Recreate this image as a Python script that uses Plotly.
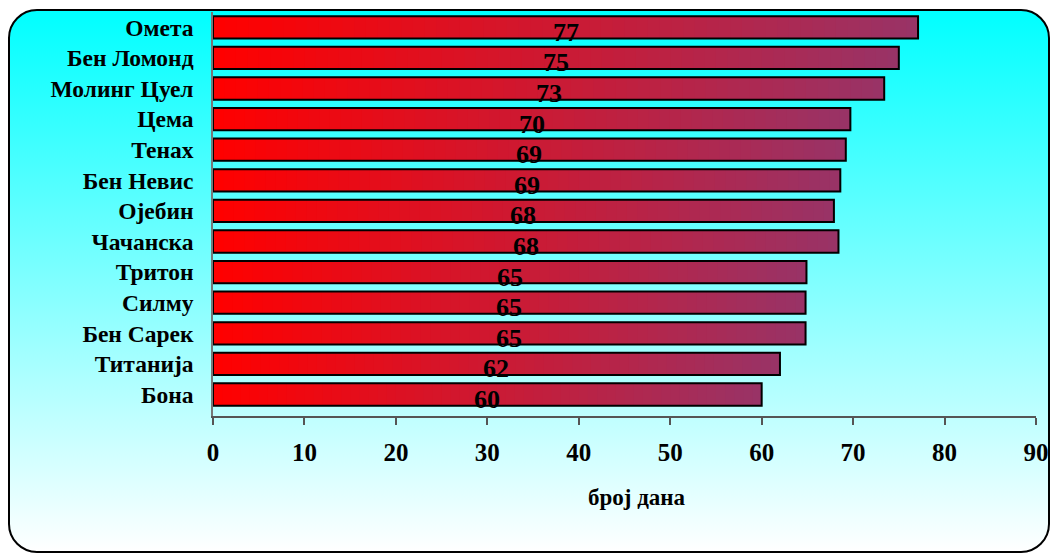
import base64
import plotly.graph_objects as go

categories = ["Омета", "Бен Ломонд", "Молинг Цуел", "Цема", "Тенах", "Бен Невис",
              "Ојебин", "Чачанска", "Тритон", "Силму", "Бен Сарек", "Титанија", "Бона"]
values = [77.1, 75.0, 73.4, 69.7, 69.2, 68.6, 67.9, 68.4, 64.9, 64.8, 64.8, 62.0, 60.0]
x_ticks = [0, 10, 20, 30, 40, 50, 60, 70, 80, 90]
x_title = "број дана"

W, H = 1051, 554
ML, MR, MT, MB = 213, 15, 12, 138
PW, PH = W - ML - MR, H - MT - MB

FONT = "Liberation Serif, Times New Roman, serif"

start_rgb = (255, 0, 0)
end_rgb = (153, 51, 102)
N = 60

fig = go.Figure()

# gradient bars: longest (end colour) first, shorter redder ones drawn on top
for k in range(N):
    frac = (N - k) / N
    t = (N - k - 1) / (N - 1)
    c = tuple(round(s + (e - s) * t) for s, e in zip(start_rgb, end_rgb))
    fig.add_trace(go.Bar(
        y=categories, x=[v * frac for v in values], orientation="h",
        marker=dict(color="rgb(%d,%d,%d)" % c, line=dict(width=0)),
        hoverinfo="skip", showlegend=False))

# outline
fig.add_trace(go.Bar(
    y=categories, x=values, orientation="h",
    marker=dict(color="rgba(0,0,0,0)", line=dict(color="black", width=2)),
    showlegend=False))

for cat, v in zip(categories, values):
    fig.add_annotation(x=v / 2, y=cat, xref="x", yref="y", text="<b>%.0f</b>" % v,
                       showarrow=False, yshift=-5,
                       font=dict(family=FONT, size=26, color="black"))

fig.add_annotation(x=(637 - ML) / PW, y=(MT + PH - 497) / PH, xref="paper", yref="paper",
                   text="<b>%s</b>" % x_title, showarrow=False,
                   xanchor="center", yanchor="middle",
                   font=dict(family=FONT, size=23, color="black"))

# background frame (rounded rectangle with vertical cyan-to-white gradient)
svg = f'''<svg xmlns="http://www.w3.org/2000/svg" width="{W}" height="{H}" viewBox="0 0 {W} {H}" preserveAspectRatio="none">
<defs><linearGradient id="g" x1="0" y1="0" x2="0" y2="1">
<stop offset="0" stop-color="#00FFFF"/><stop offset="1" stop-color="#FFFFFF"/></linearGradient></defs>
<rect x="9" y="10" width="1040" height="542" rx="28" ry="28" fill="url(#g)" stroke="black" stroke-width="2"/>
</svg>'''
src = "data:image/svg+xml;base64," + base64.b64encode(svg.encode()).decode()
fig.add_layout_image(dict(source=src, xref="paper", yref="paper",
                          x=-ML / PW, y=1 + MT / PH, sizex=W / PW, sizey=H / PH,
                          xanchor="left", yanchor="top", sizing="stretch", layer="below"))

fig.update_layout(
    width=W, height=H, margin=dict(l=ML, r=MR, t=MT, b=MB, autoexpand=False),
    paper_bgcolor="white", plot_bgcolor="rgba(0,0,0,0)",
    barmode="overlay", bargap=0.27,
    font=dict(family=FONT, color="black"),
)
fig.update_xaxes(range=[0, 90], tickvals=x_ticks, ticktext=["<b>%d</b>" % t for t in x_ticks],
                 showgrid=False, zeroline=False, showline=True, linecolor="#555555", linewidth=1.5,
                 ticks="outside", ticklen=7, tickcolor="#555555", tickwidth=1.5, automargin=False,
                 tickfont=dict(family=FONT, size=25, color="black"), ticklabelstandoff=6)
fig.update_yaxes(categoryorder="array", categoryarray=categories[::-1],
                 ticktext=["<b>%s</b>" % c for c in categories], tickvals=categories,
                 showgrid=False, zeroline=False, showline=True, linecolor="#777777", linewidth=1.5,
                 ticks="", automargin=False,
                 tickfont=dict(family=FONT, size=23.5, color="black"), ticklabelstandoff=13)

fig.write_html("out.html")
